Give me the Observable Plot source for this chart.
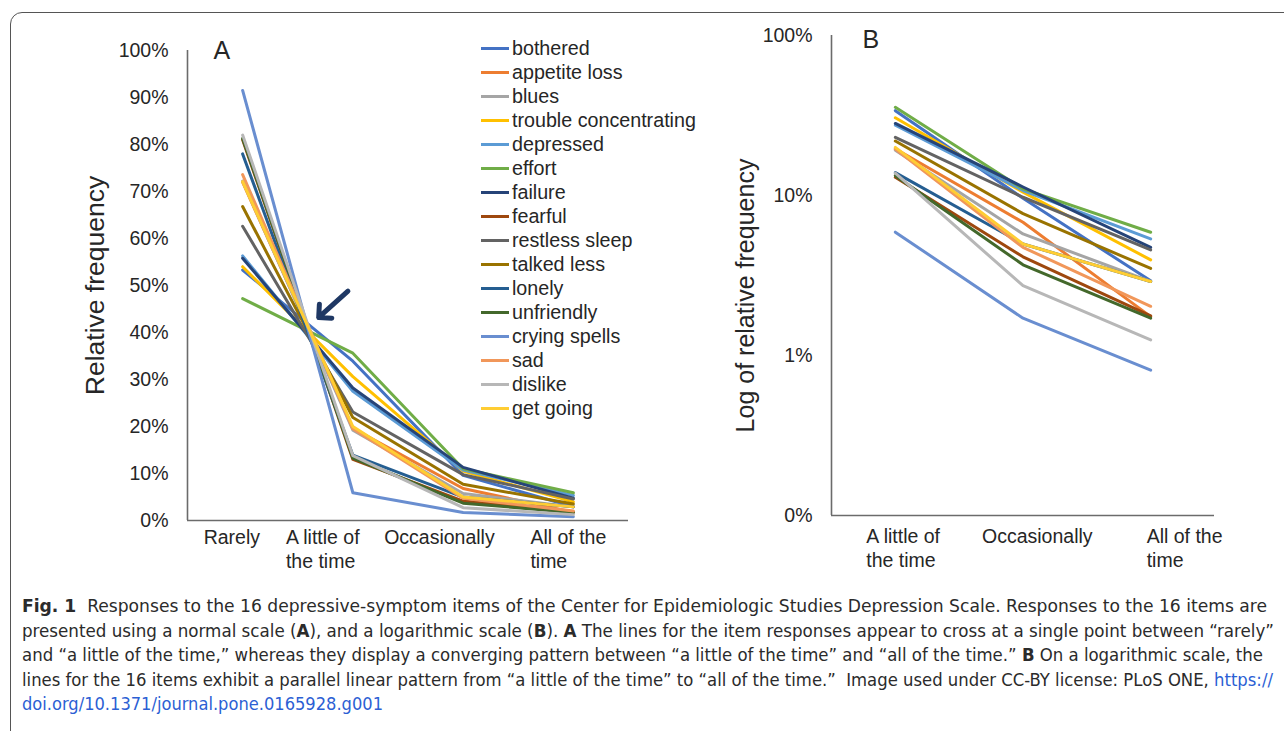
<!DOCTYPE html>
<html>
<head>
<meta charset="utf-8">
<script src="https://cdn.jsdelivr.net/npm/d3@7"></script>
<script src="https://cdn.jsdelivr.net/npm/@observablehq/plot@0.6"></script>
<style>
  html, body { margin: 0; padding: 0; background: #fff; }
  body { width: 1284px; height: 731px; overflow: hidden; position: relative; font-family: "Liberation Sans", Arial, sans-serif; }
  #frame { position: absolute; left: 10px; top: 12px; width: 1320px; height: 800px; border: 1.5px solid #555; border-radius: 12px; box-sizing: border-box; }
  #pa { position: absolute; left: 0; top: 0; }
  #pb { position: absolute; left: 700px; top: 0; }
  #legend { position: absolute; left: 481px; top: 36px; font-size: 19.7px; color: #262626; }
  .row { height: 24px; line-height: 24px; white-space: nowrap; display: flex; align-items: center; }
  .sw { display: inline-block; width: 28px; height: 3px; margin-right: 3px; }
  #cap { position: absolute; left: 22px; top: 594px; font-family: "Liberation Sans Narrow", "DejaVu Sans Condensed", "Liberation Sans", sans-serif; font-size: 17px; color: #2b2b2b; }
  .ln { white-space: nowrap; height: 24.5px; line-height: 24.5px; transform-origin: 0 50%; width: max-content; }
  .ln a { color: #2c5fd4; text-decoration: none; }
</style>
</head>
<body>
<div id="frame"></div>
<div id="pa"></div>
<div id="pb"></div>
<div id="legend"></div>
<div id="cap"></div>
<script>
// ---------- data ----------
const categoriesA = ["Rarely", "A little of\nthe time", "Occasionally", "All of the\ntime"];
const categoriesB = ["A little of\nthe time", "Occasionally", "All of the\ntime"];
const items = ["bothered", "appetite loss", "blues", "trouble concentrating", "depressed", "effort",
  "failure", "fearful", "restless sleep", "talked less", "lonely", "unfriendly", "crying spells",
  "sad", "dislike", "get going"];
const colors = ["#4472C4", "#ED7D31", "#A5A5A5", "#FFC000", "#5B9BD5", "#70AD47",
  "#264478", "#9E480E", "#636363", "#997300", "#255E91", "#43682B", "#698ED0",
  "#F1975A", "#B7B7B7", "#FFCD33"];
// relative frequency (%) per response category
const rarely       = [53.3, 72.0, 72.2, 54.0, 56.3, 47.2, 55.8, 81.0, 62.6, 66.8, 78.0, 81.3, 91.5, 73.6, 82.0, 72.1];
const aLittle      = [33.9, 19.6, 19.2, 30.6, 27.5, 35.6, 28.2, 13.0, 23.1, 21.9, 13.9, 13.3, 5.9, 19.5, 13.8, 20.0];
const occasionally = [9.6, 6.8, 5.75, 10.5, 10.75, 11.0, 11.3, 4.14, 9.75, 7.7, 4.98, 3.69, 1.71, 4.74, 2.73, 4.98];
const allTime      = [2.93, 1.75, 2.9, 3.96, 5.35, 5.89, 4.74, 1.77, 4.57, 3.5, 2.9, 1.71, 0.81, 2.03, 1.25, 2.9];
const yTicksA = [0, 10, 20, 30, 40, 50, 60, 70, 80, 90, 100];
const yTicksB = [0.1, 1, 10, 100];
const yTickLabelsB = ["0%", "1%", "10%", "100%"];
const arrowA = [{x1: 0.955, y1: 48.8, x2: 0.69, y2: 43.2}];

// layout (not data): label offsets relative to category position
const labelDxA = [-39, -67, -79, -43];
const labelDxB = [-29, -41, -4];

// ---------- tables ----------
const rowsA = items.flatMap((it, i) =>
  [rarely[i], aLittle[i], occasionally[i], allTime[i]].map((v, k) => ({item: it, k, v})));
const rowsB = items.flatMap((it, i) =>
  [aLittle[i], occasionally[i], allTime[i]].map((v, k) => ({item: it, k, v})));
const labA = categoriesA.map((t, k) => ({k, t}));
const labB = categoriesB.map((t, k) => ({k, t}));

const txt = "#262626";
const axisC = "#6b6b6b";
const font = "'Liberation Sans', Arial, sans-serif";

// ---------- Panel A ----------
const pa = Plot.plot({
  width: 700, height: 590,
  marginLeft: 187, marginRight: 72, marginTop: 50, marginBottom: 70,
  style: {fontFamily: font, background: "transparent", overflow: "visible"},
  x: {type: "linear", domain: [-0.5, 3.5], axis: null},
  y: {domain: [0, 100], axis: null},
  color: {domain: items, range: colors},
  marks: [
    Plot.ruleX([-0.5], {stroke: axisC, strokeWidth: 1.6}),
    Plot.ruleY([0], {stroke: axisC, strokeWidth: 1.6}),
    Plot.axisY({ticks: yTicksA, tickSize: 0, tickPadding: 19, tickFormat: d => d + "%", fontSize: 19.5, fill: txt, label: null}),
    Plot.line(rowsA, {x: "k", y: "v", z: "item", stroke: "item", strokeWidth: 3}),
    Plot.text(labA, {x: "k", y: 0, text: "t", textAnchor: "start", lineAnchor: "top", dy: 6, fontSize: 19.5, fill: txt, lineHeight: 1.25}),
    Plot.arrow(arrowA, {x1: "x1", y1: "y1", x2: "x2", y2: "y2", stroke: "#1f3864", strokeWidth: 5, headLength: 11, headAngle: 90}),
    Plot.text(["Relative frequency"], {frameAnchor: "left", textAnchor: "middle", rotate: -90, dx: -92, fontSize: 26.5, fill: txt}),
    Plot.text(["A"], {frameAnchor: "top-left", dx: 26, dy: -9, fontSize: 25, fill: txt, lineAnchor: "top"})
  ]
});
document.getElementById("pa").appendChild(pa);

// ---------- Panel B ----------
const pb = Plot.plot({
  width: 584, height: 590,
  marginLeft: 131, marginRight: 70, marginTop: 35, marginBottom: 75,
  style: {fontFamily: font, background: "transparent", overflow: "visible"},
  x: {type: "linear", domain: [-0.5, 2.5], axis: null},
  y: {type: "log", domain: [0.1, 100], axis: null},
  color: {domain: items, range: colors},
  marks: [
    Plot.ruleX([-0.5], {stroke: axisC, strokeWidth: 1.6}),
    Plot.ruleY([0.1], {stroke: axisC, strokeWidth: 1.6}),
    Plot.axisY({ticks: yTicksB, tickSize: 0, tickPadding: 19, tickFormat: d => yTickLabelsB[yTicksB.indexOf(d)], fontSize: 19.5, fill: txt, label: null}),
    Plot.line(rowsB, {x: "k", y: "v", z: "item", stroke: "item", strokeWidth: 3}),
    Plot.text(labB, {x: "k", y: 0.1, text: "t", textAnchor: "start", lineAnchor: "top", dy: 10, fontSize: 19.5, fill: txt, lineHeight: 1.25}),
    Plot.text(["Log of relative frequency"], {frameAnchor: "left", textAnchor: "middle", rotate: -90, dx: -86, dy: 20, fontSize: 25, fill: txt}),
    Plot.text(["B"], {frameAnchor: "top-left", dx: 31, dy: -5, fontSize: 25, fill: txt, lineAnchor: "top"})
  ]
});
document.getElementById("pb").appendChild(pb);

// shift category labels by their layout offsets
function shiftLabels(svg, labels, dxs) {
  const norm = s => s.replace(/\s+/g, "");
  Array.from(svg.querySelectorAll("text")).forEach(t => {
    const i = labels.findIndex(l => norm(l) === norm(t.textContent));
    if (i < 0) return;
    const x = +t.getAttribute("x") || 0;
    t.setAttribute("x", x + dxs[i]);
    t.querySelectorAll("tspan").forEach(ts => { if (ts.hasAttribute("x")) ts.setAttribute("x", +ts.getAttribute("x") + dxs[i]); });
  });
}
shiftLabels(pa, categoriesA, labelDxA);
shiftLabels(pb, categoriesB, labelDxB);

// ---------- legend ----------
const lg = d3.select("#legend");
items.forEach((it, i) => {
  const r = lg.append("div").attr("class", "row");
  r.append("span").attr("class", "sw").style("background", colors[i]);
  r.append("span").text(it);
});

// ---------- caption ----------
const capLines = [
  '<b>Fig. 1</b>&nbsp; Responses to the 16 depressive-symptom items of the Center for Epidemiologic Studies Depression Scale. Responses to the 16 items are',
  'presented using a normal scale (<b>A</b>), and a logarithmic scale (<b>B</b>). <b>A</b> The lines for the item responses appear to cross at a single point between “rarely”',
  'and “a little of the time,” whereas they display a converging pattern between “a little of the time” and “all of the time.” <b>B</b> On a logarithmic scale, the',
  'lines for the 16 items exhibit a parallel linear pattern from “a little of the time” to “all of the time.”&nbsp; Image used under CC-BY license: PLoS ONE, <a>https://</a>',
  '<a>doi.org/10.1371/journal.pone.0165928.g001</a>'
];
const capWidths = [1245, 1252, 1241, 1251, 361];
const cap = document.getElementById("cap");
capLines.forEach((h, i) => {
  const d = document.createElement("div");
  d.className = "ln";
  d.innerHTML = h;
  cap.appendChild(d);
  const w = d.getBoundingClientRect().width;
  d.style.transform = `scaleX(${capWidths[i] / w})`;
});
</script>
</body>
</html>
